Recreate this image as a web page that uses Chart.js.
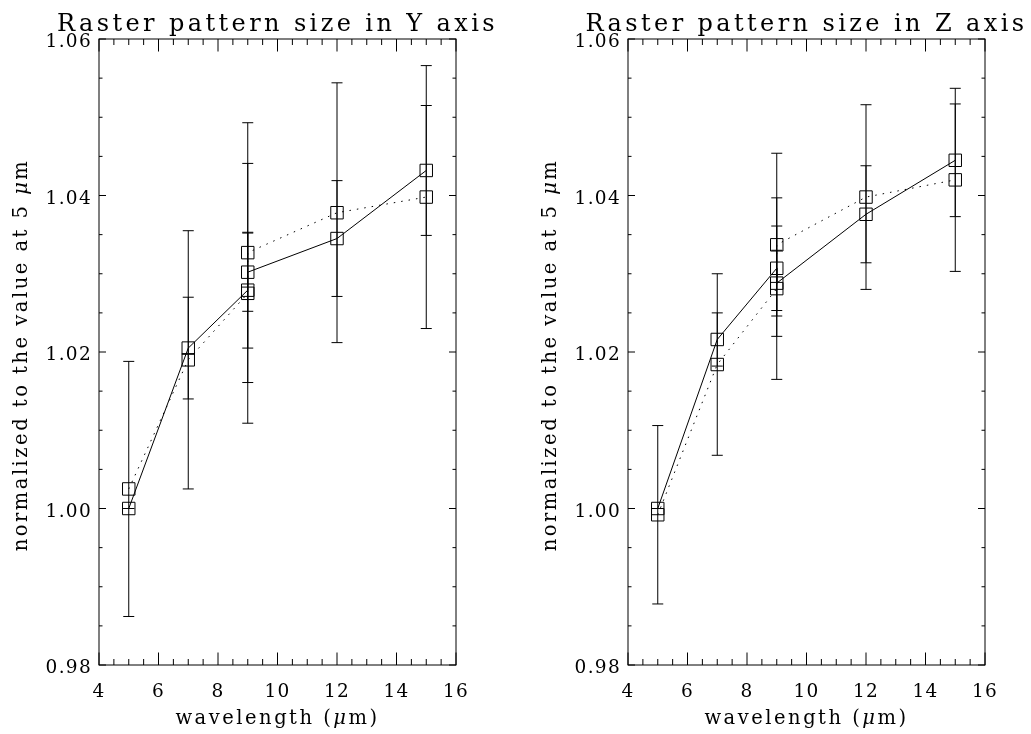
<!DOCTYPE html>
<html>
<head>
<meta charset="utf-8">
<title>Raster pattern size</title>
<script src="https://cdn.jsdelivr.net/npm/chart.js@4.4.1/dist/chart.umd.min.js"></script>
<style>
html, body { margin: 0; padding: 0; background: #fff; }
#wrap { position: relative; width: 1031px; height: 734px; overflow: hidden; }
canvas { position: absolute; top: 0; }
#cy { left: 0; }
#cz { left: 529px; }
</style>
</head>
<body>
<div id="wrap">
  <canvas id="cy" width="502" height="734"></canvas>
  <canvas id="cz" width="502" height="734"></canvas>
</div>
<script>
// wavelength in um (9 um was measured twice)
const wavelength = [5, 7, 9, 9, 12, 15];

// raster size along Y, normalized to 5 um
const ySolid     = [1.0000, 1.0205, 1.0279, 1.0302, 1.0345, 1.0432];
const ySolidErr  = [0,      0.0065, 0.0074, 0.0050, 0.0074, 0.0083];
const yDotted    = [1.0025, 1.0190, 1.0275, 1.0327, 1.0378, 1.0398];
const yDottedErr = [0.0163, 0.0165, 0.0166, 0.0166, 0.0166, 0.0168];

// raster size along Z, normalized to 5 um
const zSolid     = [1.0000, 1.0216, 1.0307, 1.0288, 1.0376, 1.0445];
const zSolidErr  = [0,      0.0034, 0.0054, 0.0042, 0.0062, 0.0072];
const zDotted    = [0.9992, 1.0184, 1.0281, 1.0337, 1.0398, 1.0420];
const zDottedErr = [0.0114, 0.0116, 0.0116, 0.0117, 0.0118, 0.0117];

const xTicks = [4, 6, 8, 10, 12, 14, 16];
const yTicks = [0.98, 1.00, 1.02, 1.04, 1.06];
const xMinor = 0.5;
const yMinor = 0.005;

const FONT = "'DejaVu Serif', serif";

// draw a run of text pieces, some italic, centred on x
function richText(ctx, parts, x, y, size, spacing){
  ctx.letterSpacing = spacing + 'px';
  let w = 0;
  parts.forEach(p => {
    ctx.font = (p.it ? 'italic ' : '') + size + 'px ' + FONT;
    p.w = ctx.measureText(p.t).width;
    w += p.w;
  });
  let cx = x - w / 2;
  ctx.textAlign = 'left';
  parts.forEach(p => {
    ctx.font = (p.it ? 'italic ' : '') + size + 'px ' + FONT;
    ctx.fillText(p.t, cx, y);
    cx += p.w;
  });
}

const idlAxes = {
  id: 'idlAxes',
  beforeDatasetsDraw(chart){
    // error bars
    const {ctx, scales: {x, y}} = chart;
    ctx.save();
    ctx.strokeStyle = '#000';
    ctx.lineWidth = 1;
    chart.data.datasets.forEach(ds => {
      ds.data.forEach((p, i) => {
        const e = ds.errors[i];
        const px = x.getPixelForValue(p.x);
        const lo = y.getPixelForValue(p.y - e);
        const hi = y.getPixelForValue(p.y + e);
        ctx.beginPath();
        ctx.moveTo(px, lo); ctx.lineTo(px, hi);
        ctx.moveTo(px - 5.5, lo); ctx.lineTo(px + 5.5, lo);
        ctx.moveTo(px - 5.5, hi); ctx.lineTo(px + 5.5, hi);
        ctx.stroke();
      });
    });
    ctx.restore();
  },
  afterDraw(chart, args, opts){
    const {ctx, chartArea: a, scales: {x, y}} = chart;
    ctx.save();
    ctx.strokeStyle = '#000';
    ctx.fillStyle = '#000';
    ctx.lineWidth = 1;
    ctx.strokeRect(a.left, a.top, a.right - a.left, a.bottom - a.top);

    // inward ticks on all four sides
    ctx.beginPath();
    const nx = Math.round((x.max - x.min) / xMinor);
    for (let i = 0; i <= nx; i++) {
      const px = x.getPixelForValue(x.min + i * xMinor);
      const len = i % 4 === 0 ? 12.5 : 6;
      ctx.moveTo(px, a.bottom); ctx.lineTo(px, a.bottom - len);
      ctx.moveTo(px, a.top); ctx.lineTo(px, a.top + len);
    }
    const ny = Math.round((y.max - y.min) / yMinor);
    for (let i = 0; i <= ny; i++) {
      const py = y.getPixelForValue(y.min + i * yMinor);
      const len = i % 4 === 0 ? 7 : 3.5;
      ctx.moveTo(a.left, py); ctx.lineTo(a.left + len, py);
      ctx.moveTo(a.right, py); ctx.lineTo(a.right - len, py);
    }
    ctx.stroke();

    // tick labels
    ctx.font = '18.5px ' + FONT;
    ctx.letterSpacing = '1.3px';
    ctx.textBaseline = 'alphabetic';
    ctx.textAlign = 'center';
    xTicks.forEach(v => {
      ctx.fillText(String(v), x.getPixelForValue(v), a.bottom + 32);
    });
    ctx.textAlign = 'right';
    yTicks.forEach(v => {
      ctx.fillText(v.toFixed(2), a.left - 7, y.getPixelForValue(v) + 8);
    });

    // titles
    const mid = (a.left + a.right) / 2;
    richText(ctx, [{t: opts.title}], mid, 31, 24, 3.4);
    richText(ctx, [{t: 'wavelength ('}, {t: 'μ', it: true}, {t: 'm)'}], mid, 724, 19.5, 2.5);
    ctx.translate(27, (a.top + a.bottom) / 2 + 3);
    ctx.rotate(-Math.PI / 2);
    richText(ctx, [{t: 'normalized to the value at 5 '}, {t: 'μ', it: true}, {t: 'm'}], 0, 0, 19.5, 2.5);
    ctx.restore();
  }
};

function series(vals, errs, dash){
  return {
    data: wavelength.map((w, i) => ({x: w, y: vals[i]})),
    errors: errs,
    showLine: true,
    tension: 0,
    borderColor: '#000',
    borderWidth: 1,
    borderDash: dash,
    pointStyle: 'rect',
    pointRadius: 8.8,
    pointBorderWidth: 1,
    pointBorderColor: '#000',
    pointBackgroundColor: 'rgba(0,0,0,0)'
  };
}

function makePanel(id, title, solid, solidErr, dotted, dottedErr){
  new Chart(document.getElementById(id), {
    type: 'scatter',
    data: {
      datasets: [
        series(solid, solidErr, []),
        series(dotted, dottedErr, [1.5, 6])
      ]
    },
    options: {
      responsive: false,
      animation: false,
      events: [],
      layout: {padding: {left: 99, right: 46, top: 39, bottom: 69}},
      scales: {
        x: {type: 'linear', min: 4, max: 16, display: false},
        y: {type: 'linear', min: 0.98, max: 1.06, display: false}
      },
      plugins: {
        legend: {display: false},
        tooltip: {enabled: false},
        idlAxes: {title: title}
      }
    },
    plugins: [idlAxes]
  });
}

makePanel('cy', 'Raster pattern size in Y axis', ySolid, ySolidErr, yDotted, yDottedErr);
makePanel('cz', 'Raster pattern size in Z axis', zSolid, zSolidErr, zDotted, zDottedErr);
</script>
</body>
</html>
